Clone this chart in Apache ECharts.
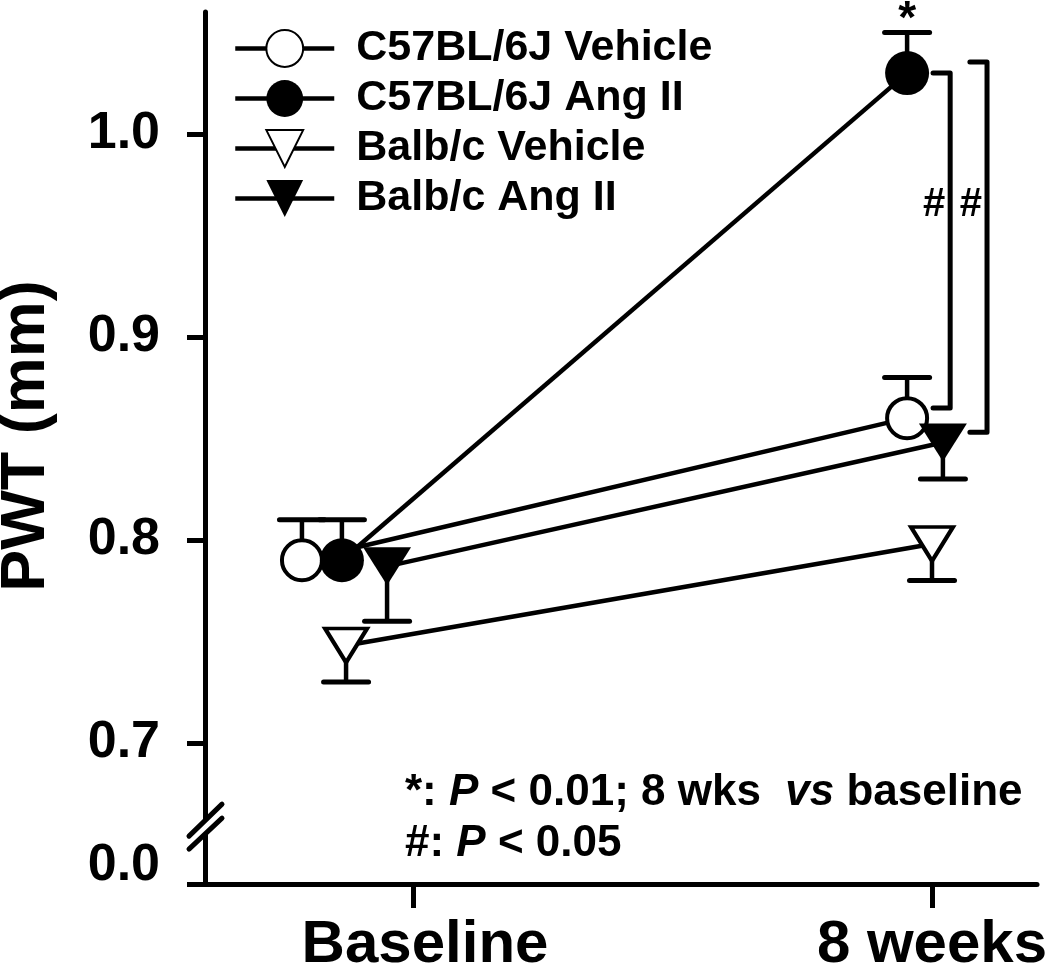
<!DOCTYPE html>
<html><head><meta charset="utf-8">
<script src="https://cdn.jsdelivr.net/npm/echarts@6/dist/echarts.min.js"></script>
<style>html,body{margin:0;padding:0;background:#fff}#c{width:1050px;height:966px}</style>
</head><body><div id="c"></div>
<script>
// ---------- data ----------
const timeLabels = ['Baseline', '8 weeks'];          // x ticks at 1 and 2
const timeTicks = [1, 2];
const seriesNames = ['C57BL/6J Vehicle', 'C57BL/6J Ang II', 'Balb/c Vehicle', 'Balb/c Ang II'];
// x = time index with the horizontal jitter used in the figure
const c57VehX = [0.786, 1.952];
const c57VehY = [0.790, 0.860];
const c57VehErr = [0.810, 0.880];
const c57AngX = [0.863, 1.952];
const c57AngY = [0.790, 1.030];
const c57AngErr = [0.810, 1.050];
const balbVehX = [0.871, 2.000];
const balbVehY = [0.748, 0.798];
const balbVehErr = [0.730, 0.780];
const balbAngX = [0.950, 2.021];
const balbAngY = [0.787, 0.848];
const balbAngErr = [0.760, 0.830];
// y axis is broken: the bottom value is shown as 0.0
const yTickValues = [0.6305, 0.7, 0.8, 0.9, 1.0];
const yTickLabels = ['0.0', '0.7', '0.8', '0.9', '1.0'];
// significance brackets at 8 weeks
const bracketTop = [1.030, 1.0355];
const bracketBottom = [0.865, 0.853];
const bracketX0 = [2.002, 2.073];
const bracketX1 = [2.035, 2.106];
const bracketMark = ['#', '#'];
const bracketMarkY = [0.965, 0.965];
const starX = [1.952];
const starY = [1.050];

const FF = '"Liberation Sans", Arial, Helvetica, sans-serif';
const chart = echarts.init(document.getElementById('c'), null, {renderer: 'canvas'});

function pts(xs, ys) { return xs.map((x, i) => [x, ys[i]]); }

function lineSeries(name, xs, ys, symbol, size, filled) {
  return {
    name, type: 'line', z: 3, data: pts(xs, ys),
    symbol, symbolSize: size, symbolRotate: symbol === 'triangle' ? 180 : 0,
    showSymbol: true, animation: false, emphasis: {disabled: true}, silent: true,
    lineStyle: {color: '#000', width: 4.5},
    itemStyle: filled ? {color: '#000', borderWidth: 0}
                      : {color: '#fff', borderColor: '#000', borderWidth: 4}
  };
}

function errSeries(xs, ys, errs) {
  return {
    type: 'custom', z: 1, silent: true, animation: false,
    data: xs.map((x, i) => [x, ys[i], errs[i]]),
    renderItem(params, api) {
      const p0 = api.coord([api.value(0), api.value(1)]);
      const p1 = api.coord([api.value(0), api.value(2)]);
      const hw = 22.5;
      return {type: 'group', children: [
        {type: 'line', shape: {x1: p0[0], y1: p0[1], x2: p1[0], y2: p1[1]}, style: {stroke: '#000', lineWidth: 4.5}},
        {type: 'line', shape: {x1: p1[0] - hw, y1: p1[1], x2: p1[0] + hw, y2: p1[1]}, style: {stroke: '#000', lineWidth: 5, lineCap: 'round'}}
      ]};
    }
  };
}

const bracketSeries = {
  type: 'custom', z: 1, silent: true, animation: false,
  data: bracketTop.map((t, i) => [bracketX0[i], bracketX1[i], t, bracketBottom[i], bracketMarkY[i]]),
  renderItem(params, api) {
    const i = params.dataIndex;
    const a = api.coord([api.value(0), api.value(2)]);
    const b = api.coord([api.value(1), api.value(2)]);
    const c = api.coord([api.value(1), api.value(3)]);
    const d = api.coord([api.value(0), api.value(3)]);
    const m = api.coord([api.value(1), api.value(4)]);
    return {type: 'group', children: [
      {type: 'polyline', shape: {points: [a, b, c, d]}, style: {stroke: '#000', lineWidth: 5, fill: null, lineJoin: 'round', lineCap: 'round'}},
      {type: 'text', x: m[0] - 5, y: m[1], style: {text: bracketMark[i], fill: '#000', font: 'bold 40px ' + FF, align: 'right', verticalAlign: 'middle'}}
    ]};
  }
};

const starSeries = {
  type: 'custom', z: 1, silent: true, animation: false,
  data: pts(starX, starY),
  renderItem(params, api) {
    const p = api.coord([api.value(0), api.value(1)]);
    return {type: 'text', x: p[0], y: p[1] - 12, style: {text: '*', fill: '#000', font: 'bold 46px ' + FF, align: 'center', verticalAlign: 'middle'}};
  }
};

const yLabStyle = {fontSize: 52, fontWeight: 'bold', color: '#000', fontFamily: FF};
const xLabStyle = {fontSize: 60, fontWeight: 'bold', color: '#000', fontFamily: FF};

const option = {
  animation: false,
  backgroundColor: '#fff',
  grid: {left: 205, right: 13, top: 12, bottom: 82, containLabel: false, outerBoundsMode: 'none'},
  legend: {
    data: seriesNames, orient: 'vertical', left: 233, top: 27, padding: 0,
    itemWidth: 99, itemHeight: 46, itemGap: 7, selectedMode: false,
    lineStyle: {width: 4.5, color: '#000'},
    textStyle: {fontSize: 43, fontWeight: 'bold', color: '#000', fontFamily: FF, padding: [0, 0, 0, 17]}
  },
  xAxis: {
    type: 'value', min: 0.5992, max: 2.2023,
    axisLine: {onZero: false, lineStyle: {color: '#000', width: 5, cap: 'round'}},
    axisTick: {length: 24, lineStyle: {color: '#000', width: 5}, customValues: timeTicks},
    axisLabel: Object.assign({customValues: timeTicks,
      formatter: v => {
        const k = Math.round(v) - 1;
        return k === 0 ? '{s|' + timeLabels[k] + '}' : timeLabels[k];
      },
      rich: {s: Object.assign({padding: [0, 0, 0, 24]}, xLabStyle)},
      margin: 31}, xLabStyle),
    splitLine: {show: false}
  },
  yAxis: {
    type: 'value', min: 0.6305, max: 1.0601,
    name: 'PWT (mm)', nameLocation: 'middle', nameRotate: 90, nameGap: 147,
    nameTextStyle: {fontSize: 63, fontWeight: 'bold', color: '#000', fontFamily: FF, padding: [0, 0, 0, 24]},
    axisLine: {onZero: false, lineStyle: {color: '#000', width: 5, cap: 'round'}},
    axisTick: {length: 18, lineStyle: {color: '#000', width: 5}, customValues: yTickValues},
    axisLabel: Object.assign({customValues: yTickValues,
      formatter: v => {
        const k = yTickValues.indexOf(v);
        const s = k >= 0 ? yTickLabels[k] : v.toFixed(1);
        return k === 0 ? '{z|' + s + '}' : s;
      },
      margin: 45,
      rich: {z: Object.assign({padding: [0, 0, 36, 0]}, yLabStyle)}}, yLabStyle),
    splitLine: {show: false}
  },
  series: [
    errSeries(c57VehX, c57VehY, c57VehErr),
    errSeries(c57AngX, c57AngY, c57AngErr),
    errSeries(balbVehX, balbVehY, balbVehErr),
    errSeries(balbAngX, balbAngY, balbAngErr),
    bracketSeries,
    starSeries,
    lineSeries(seriesNames[0], c57VehX, c57VehY, 'circle', 40, false),
    lineSeries(seriesNames[1], c57AngX, c57AngY, 'circle', 44, true),
    lineSeries(seriesNames[2], balbVehX, balbVehY, 'triangle', [42, 34], false),
    lineSeries(seriesNames[3], balbAngX, balbAngY, 'triangle', [48, 38], true)
  ]
};
chart.setOption(option);

// axis break marks and footnote
const brkY = chart.convertToPixel({yAxisIndex: 0}, 0.659);
const axX = chart.convertToPixel({xAxisIndex: 0}, 0.5992);
const rich = {
  b: {fontSize: 44, fontWeight: 'bold', fontFamily: FF, fill: '#000'},
  i: {fontSize: 44, fontWeight: 'bold', fontStyle: 'italic', fontFamily: FF, fill: '#000'}
};
chart.setOption({
  graphic: [
    {type: 'rect', shape: {x: axX - 6, y: brkY - 7, width: 12, height: 14}, style: {fill: '#fff'}, z: 50},
    {type: 'line', shape: {x1: axX - 16, y1: brkY + 10, x2: axX + 17, y2: brkY - 22}, style: {stroke: '#000', lineWidth: 5, lineCap: 'round'}, z: 51},
    {type: 'line', shape: {x1: axX - 16, y1: brkY + 23, x2: axX + 17, y2: brkY - 8}, style: {stroke: '#000', lineWidth: 5, lineCap: 'round'}, z: 51},
    {type: 'text', left: 405, top: 771, z: 52, style: {text: '{b|*: }{i|P}{b| < 0.01; 8 wks  }{i|vs}{b| baseline}', rich, fill: '#000', font: 'bold 44px ' + FF}},
    {type: 'text', left: 405, top: 822, z: 52, style: {text: '{b|#: }{i|P}{b| < 0.05}', rich, fill: '#000', font: 'bold 44px ' + FF}}
  ]
});
</script>
</body></html>
